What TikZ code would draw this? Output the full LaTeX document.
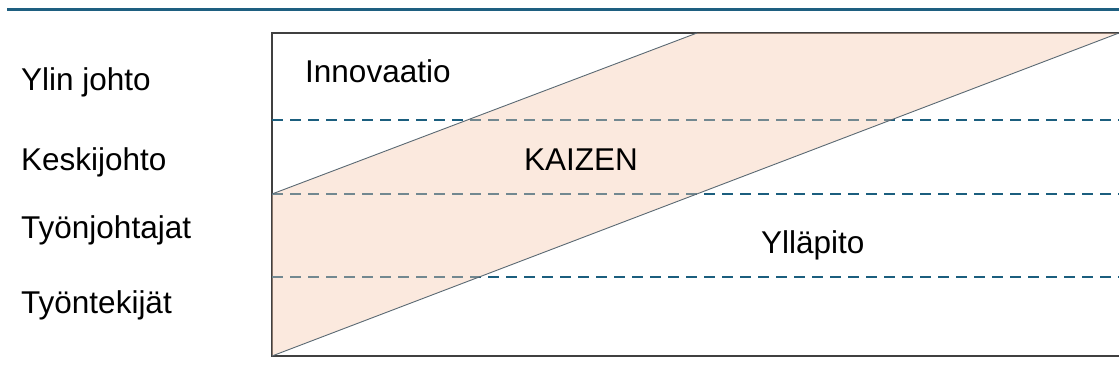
\documentclass[tikz,border=0pt]{standalone}
\usepackage{fontspec}
\setmainfont{Liberation Sans}
\definecolor{rulecol}{RGB}{30,95,128}
\definecolor{dashcol}{RGB}{27,94,126}
\definecolor{framecol}{RGB}{64,64,64}
\definecolor{bandfill}{RGB}{245,200,172}
\definecolor{edgecol}{RGB}{90,105,115}
\begin{document}
\begin{tikzpicture}[x=1pt,y=-1pt,
  lbl/.style={anchor=base west,inner sep=0pt,font=\fontsize{31.5}{38}\selectfont},
  level/.style={draw=dashcol,line width=2.2pt,dash pattern=on 11pt off 7pt},
  frame/.style={draw=framecol,line width=2pt},
  band/.style={fill=bandfill,fill opacity=0.4},
  bandedge/.style={draw=edgecol,line width=0.9pt}]
\useasboundingbox (0,0) rectangle (1119,378);
% top rule
\draw[rulecol,line width=3pt] (7,9) -- (1125,9);
% frame
\coordinate (tl) at (272,33);
\coordinate (bl) at (272,356);
\coordinate (tr) at (1125,33);
\coordinate (br) at (1125,356);
\draw[frame] (tr) -- (tl) -- (bl) -- (br);
% dashed level lines
\coordinate (d1l) at (272,120); \coordinate (d1r) at (1119,120);
\coordinate (d2l) at (272,194); \coordinate (d2r) at (1119,194);
\coordinate (d3l) at (272,277); \coordinate (d3r) at (1119,277);
\draw[level] (d1l) -- (d1r);
\draw[level] (d2l) -- (d2r);
\draw[level] (d3l) -- (d3r);
% KAIZEN band
\coordinate (ua) at (272,194);
\coordinate (ub) at (697,33);
\coordinate (lb) at (1119,33);
\coordinate (la) at (272,356);
\fill[band] (ua) -- (ub) -- (lb) -- (la) -- cycle;
\draw[bandedge] (ua) -- (ub);
\draw[bandedge] (la) -- (lb);
% labels
\node[lbl] (ylin) at (21,90) {Ylin johto};
\node[lbl] (keski) at (21,170) {Keskijohto};
\node[lbl] (tyonj) at (21,238) {Työnjohtajat};
\node[lbl] (tyont) at (21,313) {Työntekijät};
\node[lbl] (innov) at (305,82) {Innovaatio};
\node[lbl] (kaizen) at (524,170) {KAIZEN};
\node[lbl] (yllap) at (761,253) {Ylläpito};
\end{tikzpicture}
\end{document}
